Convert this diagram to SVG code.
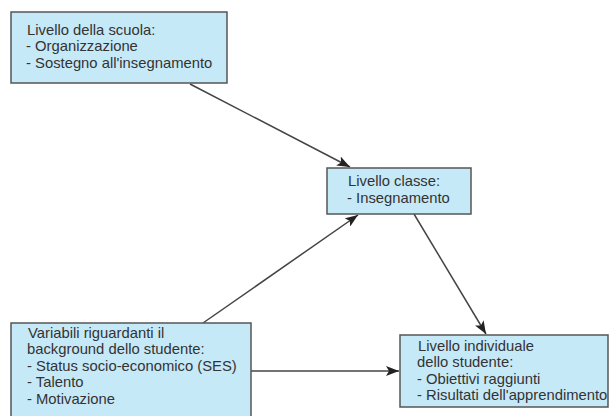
<svg xmlns="http://www.w3.org/2000/svg" width="610" height="416" viewBox="0 0 610 416">
<defs>
<style>
.box{fill:#c6e9f8;stroke:#555;stroke-width:1.5}
.t{font-family:"Liberation Sans",Arial,sans-serif;font-size:14.8px;fill:#333}
.c{stroke:#444;stroke-width:1.5;fill:none;marker-end:url(#ah)}
</style>
<marker id="ah" markerUnits="userSpaceOnUse" markerWidth="14" markerHeight="10" refX="13" refY="5" orient="auto">
<path d="M0,0 L13,5 L0,10 L3,5 z" fill="#222"/>
</marker>
</defs>
<rect width="610" height="416" fill="#fff"/>
<g id="connectors">
<line class="c" x1="190" y1="84" x2="350" y2="167"/>
<line class="c" x1="203" y1="323" x2="358" y2="215"/>
<line class="c" x1="414" y1="214" x2="486" y2="334"/>
<line class="c" x1="251" y1="371" x2="399" y2="371"/>
</g>
<g id="scuola">
<rect class="box" x="11" y="12" width="216" height="71"/>
<text class="t" x="27" y="35">Livello della scuola:</text>
<text class="t" x="26" y="51">- Organizzazione</text>
<text class="t" x="26" y="68">- Sostegno all'insegnamento</text>
</g>
<g id="classe">
<rect class="box" x="327" y="168" width="144" height="46"/>
<text class="t" x="348" y="186">Livello classe:</text>
<text class="t" x="347" y="203">- Insegnamento</text>
</g>
<g id="background">
<rect class="box" x="11" y="323" width="240" height="110"/>
<text class="t" x="28" y="338">Variabili riguardanti il</text>
<text class="t" x="27" y="354">background dello studente:</text>
<text class="t" x="27" y="371">- Status socio-economico (SES)</text>
<text class="t" x="27" y="387">- Talento</text>
<text class="t" x="27" y="404">- Motivazione</text>
</g>
<g id="individuale">
<rect class="box" x="400" y="335" width="208" height="72"/>
<text class="t" x="418" y="351">Livello individuale</text>
<text class="t" x="417" y="367">dello studente:</text>
<text class="t" x="417" y="384">- Obiettivi raggiunti</text>
<text class="t" x="417" y="400">- Risultati dell'apprendimento</text>
</g>
</svg>
